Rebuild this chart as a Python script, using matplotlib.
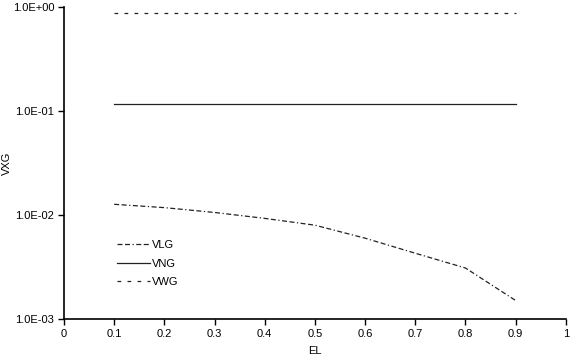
import matplotlib
matplotlib.use("Agg")
import matplotlib.pyplot as plt
from matplotlib.ticker import FixedLocator, FuncFormatter

el = [0.1, 0.2, 0.3, 0.4, 0.5, 0.6, 0.7, 0.8, 0.9]
vlg = [0.0127, 0.0118, 0.0106, 0.0093, 0.0080, 0.0060, 0.0043, 0.0031, 0.00151]
vng = [0.118] * 9
vwg = [0.87] * 9

plt.rcParams["font.family"] = ["Liberation Sans", "DejaVu Sans"]
plt.rcParams["font.size"] = 8

fig = plt.figure(figsize=(5.71, 3.59), dpi=100)
ax = fig.add_axes([0.112, 0.111, 0.879, 0.8695])

ax.plot(el, vlg, color="#222222", lw=0.9, dashes=(4, 2, 4, 2, 1, 2), label="VLG")
ax.plot(el, vng, color="#222222", lw=0.9, label="VNG")
ax.plot(el, vwg, color="#222222", lw=0.9, dashes=(3, 5), label="VWG")

ax.set_yscale("log")
ax.set_ylim(1e-3, 1)
ax.set_xlim(0, 1)
ax.yaxis.set_major_locator(FixedLocator([1e-3, 1e-2, 1e-1, 1]))
ax.yaxis.set_minor_locator(FixedLocator([]))
ax.yaxis.set_major_formatter(FuncFormatter(lambda v, p: f"{v:.1E}"))
ax.set_xticks([i / 10 for i in range(11)])
ax.set_xticklabels(["0"] + [f"{i / 10:g}" for i in range(1, 10)] + ["1"])

for s in ["top", "right"]:
    ax.spines[s].set_visible(False)
for s in ["left", "bottom"]:
    ax.spines[s].set_linewidth(1.2)
ax.tick_params(direction="out", length=4, width=1, colors="black", pad=3)

ax.set_xlabel("EL", labelpad=5)
ax.set_ylabel("VXG")
ax.yaxis.set_label_coords(-0.104, 0.5)

ax.legend(loc="upper left", bbox_to_anchor=(0.085, 0.285), frameon=False,
          handlelength=3.0, handletextpad=0.2, labelspacing=0.75)

fig.savefig("out.png", dpi=100)
